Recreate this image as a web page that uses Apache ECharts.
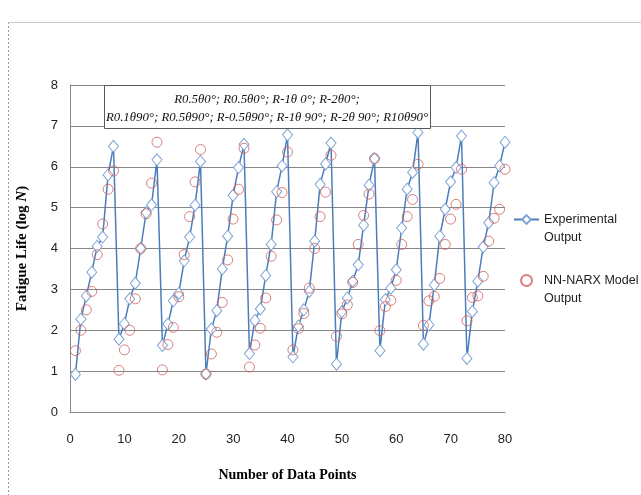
<!DOCTYPE html>
<html>
<head>
<meta charset="utf-8">
<script src="https://cdn.jsdelivr.net/npm/echarts@6/dist/echarts.min.js"></script>
<style>
  html, body { margin: 0; padding: 0; background: #fff; }
  #chart { width: 641px; height: 495px; }
</style>
</head>
<body>
<div id="chart"></div>
<script>
// 80 data points (10 loading cases x 8)
var experimental = [
  0.92, 2.27, 2.84, 3.42, 4.05, 4.28, 5.8, 6.5,
  1.78, 2.16, 2.77, 3.15, 4.0, 4.88, 5.07, 6.17,
  1.63, 2.15, 2.72, 2.9, 3.7, 4.28, 5.06, 6.13,
  0.93, 2.03, 2.48, 3.5, 4.3, 5.3, 5.98, 6.55,
  1.43, 2.24, 2.52, 3.34, 4.1, 5.39, 6.02, 6.78,
  1.35, 2.1, 2.5, 2.95, 4.18, 5.57, 6.07, 6.58,
  1.17, 2.45, 2.79, 3.2, 3.6, 4.57, 5.55, 6.2,
  1.5, 2.75, 3.03, 3.48, 4.5, 5.45, 5.86, 6.84,
  1.66, 2.13, 3.11, 4.3, 4.96, 5.63, 5.98, 6.75,
  1.31, 2.46, 3.2, 4.04, 4.63, 5.61, 6.02, 6.6
];
var nnNarx = [
  1.5, 2.0, 2.5, 2.95, 3.85, 4.6, 5.45, 5.9,
  1.02, 1.52, 2.0, 2.77, 4.0, 4.85, 5.6, 6.6,
  1.03, 1.65, 2.07, 2.82, 3.85, 4.78, 5.63, 6.42,
  0.93, 1.42, 1.95, 2.68, 3.72, 4.72, 5.45, 6.45,
  1.1, 1.64, 2.05, 2.79, 3.81, 4.7, 5.37, 6.36,
  1.52, 2.04, 2.41, 3.03, 4.0, 4.78, 5.38, 6.28,
  1.85, 2.4, 2.62, 3.17, 4.1, 4.81, 5.33, 6.2,
  1.99, 2.58, 2.73, 3.22, 4.1, 4.78, 5.2, 6.06,
  2.12, 2.72, 2.83, 3.27, 4.1, 4.72, 5.08, 5.94,
  2.23, 2.8, 2.84, 3.32, 4.18, 4.74, 4.96, 5.94
];
var seriesNames = ['Experimental Output', 'NN-NARX Model Output'];
var legendLines = {
  'Experimental Output': ['Experimental', 'Output'],
  'NN-NARX Model Output': ['NN-NARX Model', 'Output']
};
var boxLines = [
  'R0.5\u03b80\u00b0; R0.5\u03b80\u00b0; R-1\u03b8 0\u00b0; R-2\u03b80\u00b0;',
  'R0.1\u03b890\u00b0; R0.5\u03b890\u00b0; R-0.5\u03b890\u00b0; R-1\u03b8 90\u00b0; R-2\u03b8 90\u00b0; R10\u03b890\u00b0'
];

function withIndex(arr) {
  return arr.map(function (v, i) { return [i + 1, v]; });
}

var tickFont = 'Liberation Sans, sans-serif';
var titleFont = 'Liberation Serif, serif';

var chart = echarts.init(document.getElementById('chart'));

var option = {
  backgroundColor: '#fff',
  animation: false,
  grid: { left: 70, right: 136, top: 85, bottom: 83 },
  xAxis: {
    type: 'value',
    min: 0, max: 80, interval: 10,
    name: 'Number of Data Points',
    nameLocation: 'middle',
    nameGap: 56,
    nameTextStyle: { fontFamily: titleFont, fontWeight: 'bold', fontSize: 14, color: '#000' },
    axisLine: { lineStyle: { color: '#868686' } },
    axisTick: { show: false },
    axisLabel: { margin: 21, fontFamily: tickFont, fontSize: 13, color: '#222' },
    splitLine: { show: false }
  },
  yAxis: {
    type: 'value',
    min: 0, max: 8, interval: 1,
    name: '{b|Fatigue Life (log }{i|N}{b|)}',
    nameLocation: 'middle',
    nameGap: 40,
    nameTextStyle: {
      rich: {
        b: { fontFamily: titleFont, fontWeight: 'bold', fontSize: 15, color: '#000' },
        i: { fontFamily: titleFont, fontWeight: 'bold', fontStyle: 'italic', fontSize: 15, color: '#000' }
      }
    },
    axisLine: { show: true, lineStyle: { color: '#868686' } },
    axisTick: { show: false },
    axisLabel: { margin: 12, fontFamily: tickFont, fontSize: 13, color: '#222' },
    splitLine: { lineStyle: { color: '#868686', width: 1 } }
  },
  legend: {
    orient: 'vertical',
    left: 513,
    top: 195,
    padding: 0,
    itemWidth: 25,
    itemHeight: 11,
    itemGap: 12,
    data: seriesNames,
    formatter: function (name) {
      var l = legendLines[name];
      return '{t| }\n{t|' + l[0] + '}\n{t|' + l[1] + '}';
    },
    textStyle: {
      rich: {
        t: { fontFamily: tickFont, fontSize: 12.5, color: '#222', lineHeight: 18 }
      }
    }
  },
  series: [
    {
      name: seriesNames[0],
      type: 'line',
      data: withIndex(experimental),
      symbol: 'diamond',
      symbolSize: [10, 12],
      showAllSymbol: true,
      lineStyle: { color: '#4a7ebb', width: 1.5 },
      itemStyle: { color: '#fff', borderColor: '#7da3d6', borderWidth: 1 },
      z: 2
    },
    {
      name: seriesNames[1],
      type: 'scatter',
      data: withIndex(nnNarx),
      symbol: 'circle',
      symbolSize: 10,
      itemStyle: { color: 'rgba(255,255,255,0)', borderColor: '#d0605c', borderWidth: 1 },
      z: 3
    }
  ],
  graphic: [
    {
      type: 'line', z: 0, silent: true,
      shape: { x1: 8.5, y1: 22, x2: 8.5, y2: 495 },
      style: { stroke: '#9a9a9a', lineWidth: 1, lineDash: [2, 2] }
    },
    {
      type: 'line', z: 0, silent: true,
      shape: { x1: 8, y1: 22.5, x2: 641, y2: 22.5 },
      style: { stroke: '#c8c8c8', lineWidth: 1 }
    },
    {
      type: 'rect', z: 10, silent: true,
      shape: { x: 104.5, y: 85.5, width: 326, height: 43 },
      style: { fill: '#fff', stroke: '#595959', lineWidth: 1 }
    },
    {
      type: 'text', z: 11, silent: true,
      x: 267, y: 100,
      style: {
        text: boxLines[0], textAlign: 'center', textVerticalAlign: 'middle',
        font: 'italic 12.8px Liberation Serif, serif', fill: '#111'
      }
    },
    {
      type: 'text', z: 11, silent: true,
      x: 267, y: 118,
      style: {
        text: boxLines[1], textAlign: 'center', textVerticalAlign: 'middle',
        font: 'italic 12.8px Liberation Serif, serif', fill: '#111'
      }
    }
  ]
};

chart.setOption(option);
</script>
</body>
</html>
